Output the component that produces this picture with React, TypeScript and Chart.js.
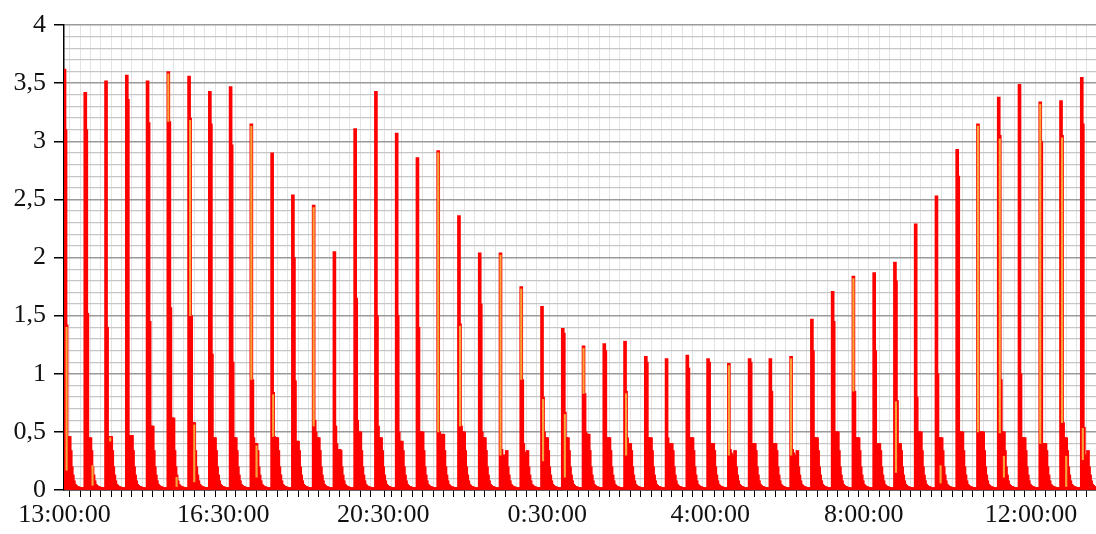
import React, { useEffect, useRef } from 'react';
import { Chart, registerables } from 'chart.js';

Chart.register(...registerables);

// ---- data ----
const TIME_LABELS = ['13:00:00', '16:30:00', '20:30:00', '0:30:00', '4:00:00', '8:00:00', '12:00:00'];
// sample index (x value) where each time label sits
const LABEL_SAMPLES = [0, 153, 307, 465, 622, 770, 931];

const SAMPLES_PER_SPIKE = 20;
const SAMPLES_PER_TICK = 10;
const LAST_SAMPLE = 993;

// peak value of each burst
const PEAK = [3.62, 3.42, 3.52, 3.57, 3.52, 3.6, 3.56, 3.43, 3.47, 3.15, 2.9, 2.54, 2.45, 2.05, 3.11, 3.43, 3.07, 2.86, 2.92, 2.36,
  2.04, 2.04, 1.75, 1.58, 1.39, 1.24, 1.26, 1.28, 1.15, 1.13, 1.16, 1.13, 1.09, 1.13, 1.13, 1.15, 1.47, 1.71, 1.84, 1.87,
  1.96, 2.29, 2.53, 2.93, 3.15, 3.38, 3.49, 3.34, 3.35, 3.55];
// sample right after the peak
const SECOND = [3.1, 3.1, 1.4, 3.36, 3.16, 3.17, 3.2, 3.15, 2.97, 0.95, 0.84, 2.0, 0.6, 0.55, 1.65, 1.5, 1.5, 1.4, 0.5, 1.43,
  1.6, 0.35, 0.95, 0.8, 1.35, 0.83, 1.2, 0.85, 1.1, 0.45, 1.05, 1.1, 0.35, 1.1, 0.85, 0.35, 1.2, 1.45, 0.85, 1.2,
  1.8, 0.8, 1.0, 2.7, 0.5, 3.05, 1.0, 3.0, 3.05, 3.15];
// third sample
const THIRD = [1.42, 1.52, 0.46, 0.47, 1.45, 1.57, 1.5, 1.17, 1.1, 0.45, 0.46, 0.94, 0.5, 0.4, 0.6, 0.55, 0.5, 0.5, 0.45, 0.55,
  0.5, 0.3, 0.4, 0.5, 0.67, 0.5, 0.45, 0.45, 0.45, 0.4, 0.45, 0.4, 0.32, 0.4, 0.4, 0.32, 0.45, 0.5, 0.45, 0.4,
  0.77, 0.5, 0.45, 0.5, 0.5, 0.95, 0.45, 0.4, 0.58, 0.54];
// shoulder level after the drop
const SHOULDER = [0.46, 0.45, 0.46, 0.47, 0.55, 0.62, 0.58, 0.45, 0.45, 0.4, 0.45, 0.42, 0.45, 0.35, 0.5, 0.45, 0.42, 0.5, 0.48, 0.5,
  0.45, 0.3, 0.32, 0.45, 0.45, 0.48, 0.45, 0.4, 0.45, 0.4, 0.45, 0.4, 0.3, 0.4, 0.4, 0.3, 0.45, 0.5, 0.45, 0.4,
  0.4, 0.5, 0.45, 0.5, 0.5, 0.5, 0.45, 0.4, 0.45, 0.3];
// tail of each burst (samples 6..19 after the peak)
const TAIL = [0.34, 0.2, 0.13, 0.08, 0.05, 0.04, 0.03, 0.03, 0.025, 0.02, 0.02, 0.02, 0.02, 0.02];

// orange (second colour) marks
const ORANGE_SPIKE = [0, 1, 2, 5, 5, 6, 6, 9, 9, 10, 12, 18, 19, 21, 22, 23, 24, 25, 27, 32, 35, 38, 40, 42, 44, 45, 45, 47, 48, 48, 49];
const ORANGE_OFFSET = [2, 7, 4, 0, 8, 1, 5, 0, 5, 1, 0, 0, 1, 0, 0, 1, 2, 0, 1, 0, 0, 0, 1, 4, 0, 1, 5, 0, 1, 5, 1];
const ORANGE_LOW = [0.17, 0.04, 0.42, 3.17, 0.03, 1.5, 0.07, 0.95, 0.11, 0.46, 0.55, 0.5, 0.55, 0.3, 0.95, 0.25, 0.11, 0.83, 0.3, 0.3,
  0.3, 0.85, 0.15, 0.06, 0.5, 0.49, 0.11, 0.4, 0.58, 0.03, 0.26];
const ORANGE_HIGH = [1.4, 0.21, 0.45, 3.58, 0.11, 3.18, 0.56, 3.13, 0.38, 0.82, 2.43, 2.9, 1.41, 2.02, 1.73, 0.78, 0.65, 1.22, 0.83, 1.07,
  1.13, 1.82, 0.76, 0.21, 3.13, 3.02, 0.29, 3.32, 3.03, 0.29, 0.53];

const Y_MAJOR = 0.5;

function sampleValue(s: number): number {
  const k = Math.floor(s / SAMPLES_PER_SPIKE);
  const o = s % SAMPLES_PER_SPIKE;
  if (o === 0) return PEAK[k];
  if (o === 1) return SECOND[k];
  if (o === 2) return THIRD[k];
  if (o <= 5) return SHOULDER[k];
  return TAIL[o - 6];
}

function isMajor(v: number) {
  const r = v / Y_MAJOR;
  return Math.abs(r - Math.round(r)) < 1e-6;
}

export default function App() {
  const ref = useRef<HTMLCanvasElement | null>(null);

  useEffect(() => {
    document.body.style.margin = '0';
    const canvas = ref.current;
    if (!canvas) return;

    const red: { x: number; y: number }[] = [];
    for (let s = 0; s <= LAST_SAMPLE; s++) red.push({ x: s, y: sampleValue(s) });

    const orange = ORANGE_SPIKE.map((k, i) => ({
      x: k * SAMPLES_PER_SPIKE + ORANGE_OFFSET[i],
      y: [ORANGE_LOW[i], ORANGE_HIGH[i]] as [number, number],
    }));

    const labelOnly = (v: number) => LABEL_SAMPLES.includes(v) && v % SAMPLES_PER_TICK !== 0;
    const font = { family: '"Liberation Serif", "Times New Roman", serif', size: 26 };

    const chart = new Chart(canvas, {
      type: 'bar',
      data: {
        datasets: [
          {
            data: orange as any,
            backgroundColor: '#f5a33a',
            barThickness: 1.5,
            grouped: false,
            order: 0,
          } as any,
          {
            data: red as any,
            backgroundColor: '#ff0000',
            barThickness: 3,
            grouped: false,
            order: 1,
          } as any,
        ],
      },
      options: {
        animation: false,
        responsive: false,
        maintainAspectRatio: false,
        layout: { padding: { top: 25, right: 0, left: 0, bottom: 0 } },
        plugins: { legend: { display: false }, tooltip: { enabled: false } },
        scales: {
          x: {
            type: 'linear',
            min: -0.5,
            max: 993.7,
            offset: false,
            afterBuildTicks: (scale: any) => {
              const vals: number[] = [];
              for (let v = 0; v <= LAST_SAMPLE; v += SAMPLES_PER_TICK) vals.push(v);
              LABEL_SAMPLES.forEach((v) => { if (!vals.includes(v)) vals.push(v); });
              vals.sort((a, b) => a - b);
              scale.ticks = vals.map((v) => ({ value: v }));
            },
            afterFit: (scale: any) => { scale.height = 44; },
            ticks: {
              autoSkip: false,
              maxRotation: 0,
              minRotation: 0,
              padding: 3,
              color: '#111',
              font,
              callback: (value: any) => {
                const i = LABEL_SAMPLES.indexOf(Number(value));
                return i >= 0 ? TIME_LABELS[i] : '';
              },
            },
            grid: {
              color: (ctx: any) => (ctx.tick && labelOnly(ctx.tick.value) ? 'rgba(0,0,0,0)' : '#e3e3e3'),
              tickColor: (ctx: any) => (ctx.tick && labelOnly(ctx.tick.value) ? 'rgba(0,0,0,0)' : '#000'),
              tickLength: 7,
              lineWidth: 1,
            },
            border: { color: '#000', width: 1.5 },
          },
          y: {
            type: 'linear',
            min: 0,
            max: 4,
            afterFit: (scale: any) => { scale.width = 64; },
            ticks: {
              stepSize: 0.1,
              autoSkip: false,
              padding: 8,
              color: '#111',
              font,
              callback: (value: any) => {
                const v = Number(value);
                if (!isMajor(v)) return '';
                return String(Math.round(v * 10) / 10).replace('.', ',');
              },
            },
            grid: {
              color: (ctx: any) => (ctx.tick && isMajor(ctx.tick.value) ? '#9a9a9a' : '#c6c6c6'),
              tickColor: (ctx: any) => (ctx.tick && isMajor(ctx.tick.value) ? '#000' : 'rgba(0,0,0,0)'),
              tickLength: 10,
              lineWidth: (ctx: any) => (ctx.tick && isMajor(ctx.tick.value) ? 1.5 : 1.2),
            },
            border: { color: '#000', width: 1.5 },
          },
        },
      },
    } as any);

    return () => chart.destroy();
  }, []);

  return (
    <canvas
      ref={ref}
      width={1096}
      height={534}
      style={{ display: 'block', width: '1096px', height: '534px' }}
    />
  );
}
